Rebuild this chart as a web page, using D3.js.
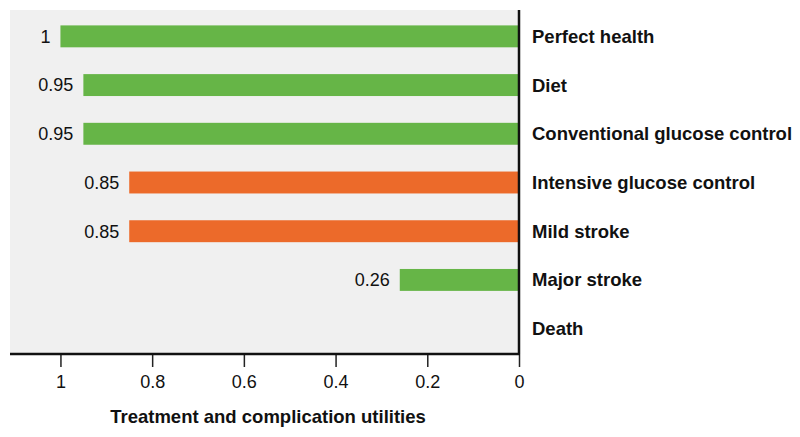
<!DOCTYPE html>
<html>
<head>
<meta charset="utf-8">
<script src="https://cdn.jsdelivr.net/npm/d3@7"></script>
<style>
  body { margin: 0; background: #fff; }
  svg { display: block; font-family: "Liberation Sans", Arial, Helvetica, sans-serif; }
</style>
</head>
<body>
<div id="chart"></div>
<script>
// values
const states = ["Perfect health", "Diet", "Conventional glucose control",
  "Intensive glucose control", "Mild stroke", "Major stroke", "Death"];
const utilities = [1, 0.95, 0.95, 0.85, 0.85, 0.26, 0];
const highlighted = [false, false, false, true, true, false, false];
const xTicks = [1, 0.8, 0.6, 0.4, 0.2, 0];

const width = 800, height = 437;
const plotLeft = 10, plotRight = 519, plotTop = 12, plotBottom = 354;

const svg = d3.select("#chart").append("svg")
    .attr("width", width)
    .attr("height", height);

// reversed axis: 0 on the right
const x = d3.scaleLinear().domain([0, 1.11]).range([plotRight, plotLeft]);
const y = d3.scaleBand().domain(states).range([plotTop, plotBottom - 1])
    .paddingInner(0.55).paddingOuter(0.275);

svg.append("rect")
    .attr("x", plotLeft).attr("y", 10)
    .attr("width", plotRight - plotLeft).attr("height", plotBottom - 10)
    .attr("fill", "#f0f0f0");

const rows = states.map((s, i) => ({state: s, value: utilities[i], hi: highlighted[i]}));

svg.append("g").selectAll("rect")
    .data(rows.filter(d => d.value > 0))
    .join("rect")
    .attr("x", d => x(d.value))
    .attr("y", d => y(d.state))
    .attr("width", d => x(0) - x(d.value))
    .attr("height", y.bandwidth())
    .attr("fill", d => d.hi ? "#ec6a2a" : "#66b547");

svg.append("g").selectAll("text")
    .data(rows.filter(d => d.value > 0))
    .join("text")
    .attr("x", d => x(d.value) - 10)
    .attr("y", d => y(d.state) + y.bandwidth() / 2)
    .attr("dy", "0.35em")
    .attr("text-anchor", "end")
    .attr("font-size", 18)
    .attr("fill", "#111")
    .text(d => d.value);

// category labels on the right
svg.append("g").selectAll("text")
    .data(rows)
    .join("text")
    .attr("x", 532)
    .attr("y", d => y(d.state) + y.bandwidth() / 2)
    .attr("dy", "0.35em")
    .attr("font-size", 18.5)
    .attr("font-weight", "bold")
    .attr("fill", "#111")
    .text(d => d.state);

// bottom axis
const xAxis = svg.append("g")
    .attr("transform", `translate(0,${plotBottom})`)
    .call(d3.axisBottom(x).tickValues(xTicks).tickSize(13).tickPadding(8)
      .tickFormat(d3.format("~g")));
xAxis.select(".domain").remove();
xAxis.selectAll(".tick line").attr("stroke", "#222").attr("stroke-width", 1.5);
xAxis.selectAll(".tick text").attr("font-size", 18).attr("fill", "#111")
    .attr("font-family", "Liberation Sans, Arial, sans-serif");

svg.append("line")
    .attr("x1", plotLeft).attr("x2", plotRight + 1)
    .attr("y1", plotBottom).attr("y2", plotBottom)
    .attr("stroke", "#111").attr("stroke-width", 2.5);

svg.append("line")
    .attr("x1", plotRight).attr("x2", plotRight)
    .attr("y1", 10).attr("y2", plotBottom)
    .attr("stroke", "#111").attr("stroke-width", 2.5);

svg.append("text")
    .attr("x", 268).attr("y", 423)
    .attr("text-anchor", "middle")
    .attr("font-size", 18.5)
    .attr("font-weight", "bold")
    .attr("fill", "#111")
    .text("Treatment and complication utilities");
</script>
</body>
</html>
